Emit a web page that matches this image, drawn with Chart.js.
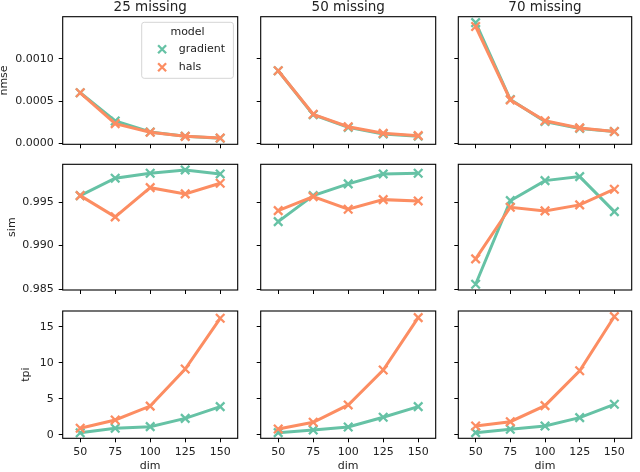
<!DOCTYPE html>
<html>
<head>
<meta charset="utf-8">
<script src="https://cdn.jsdelivr.net/npm/chart.js@4.4.1/dist/chart.umd.min.js"></script>
<style>
body { margin: 0; background: #fff; }
#wrap { position: relative; width: 640px; height: 472px; overflow: hidden; }
#wrap canvas { position: absolute; }
</style>
</head>
<body>
<div id="wrap"></div>
<script>
// x categories and facet labels
const dims = [50, 75, 100, 125, 150];
const panels = ['25 missing', '50 missing', '70 missing'];
const models = ['gradient', 'hals'];
const metrics = ['nmse', 'sim', 'tpi'];

// values per panel (25 / 50 / 70 missing)
const nmseGradient = [
    [0.000600, 0.000266, 0.000136, 0.000086, 0.000062],
    [0.000860, 0.000340, 0.000190, 0.000112, 0.000086],
    [0.001430, 0.000520, 0.000260, 0.000178, 0.000141]
];
const nmseHals = [
    [0.000600, 0.000235, 0.000132, 0.000084, 0.000064],
    [0.000860, 0.000345, 0.000198, 0.000120, 0.000092],
    [0.001384, 0.000515, 0.000268, 0.000184, 0.000141]
];
const simGradient = [
    [0.99576, 0.99777, 0.99834, 0.99872, 0.99826],
    [0.99277, 0.99576, 0.99711, 0.99826, 0.99834],
    [0.98555, 0.99518, 0.99749, 0.99795, 0.99392]
];
const simHals = [
    [0.99576, 0.99331, 0.99668, 0.99596, 0.99719],
    [0.99403, 0.99565, 0.99419, 0.99530, 0.99515],
    [0.98847, 0.99442, 0.99400, 0.99469, 0.99650]
];
const tpiGradient = [
    [0.30, 0.93, 1.15, 2.30, 3.92],
    [0.32, 0.69, 1.10, 2.45, 3.92],
    [0.32, 0.79, 1.25, 2.40, 4.25]
];
const tpiHals = [
    [0.93, 2.08, 4.00, 9.14, 16.16],
    [0.83, 1.76, 4.16, 9.00, 16.25],
    [1.25, 1.84, 4.06, 8.90, 16.40]
];

// tick labels
const dimTicks = [50, 75, 100, 125, 150];
const dimTickLabels = ['50', '75', '100', '125', '150'];
const nmseTicks = [0, 0.0005, 0.001];
const nmseTickLabels = ['0.0000', '0.0005', '0.0010'];
const simTicks = [0.985, 0.99, 0.995];
const simTickLabels = ['0.985', '0.990', '0.995'];
const tpiTicks = [0, 5, 10, 15];
const tpiTickLabels = ['0', '5', '10', '15'];

const series = {
    nmse: [nmseGradient, nmseHals],
    sim: [simGradient, simHals],
    tpi: [tpiGradient, tpiHals]
};
const yTicks = {
    nmse: [nmseTicks, nmseTickLabels],
    sim: [simTicks, simTickLabels],
    tpi: [tpiTicks, tpiTickLabels]
};
const yRange = { nmse: [-0.00001, 0.0015], sim: [0.98489, 0.99937], tpi: [-0.46, 17.17] };
const yTitlePad = { nmse: -2.8, sim: 5.5, tpi: 19.9 };
const colors = ['#66c2a5', '#fc8d62'];

// plot area edges in the figure
const plotL = [62.7, 260.7, 458.3];
const plotR = [243.3, 441.7, 638.5];
const plotT = [16.7, 164.3, 311];
const plotB = [144.3, 290, 438.3];

const FONT = 'DejaVu Sans';
const TXT = '#222';

const framePlugin = {
    id: 'frame',
    afterDraw(chart) {
        const a = chart.chartArea, ctx = chart.ctx;
        ctx.save();
        ctx.strokeStyle = '#000';
        ctx.lineWidth = 1.1;
        ctx.strokeRect(a.left, a.top, a.right - a.left, a.bottom - a.top);
        ctx.restore();
    }
};

function drawX(ctx, x, y, r) {
    ctx.beginPath();
    ctx.moveTo(x - r, y - r); ctx.lineTo(x + r, y + r);
    ctx.moveTo(x - r, y + r); ctx.lineTo(x + r, y - r);
    ctx.stroke();
}

const boxLegend = {
    id: 'boxLegend',
    afterDatasetsDraw(chart, args, opts) {
        if (!opts.show) return;
        const a = chart.chartArea, ctx = chart.ctx;
        const w = 91.7, h = 56, r = 2.5;
        const x = a.right - 4.3 - w, y = a.top + 5.6;
        ctx.save();
        ctx.beginPath();
        ctx.moveTo(x + r, y);
        ctx.arcTo(x + w, y, x + w, y + h, r);
        ctx.arcTo(x + w, y + h, x, y + h, r);
        ctx.arcTo(x, y + h, x, y, r);
        ctx.arcTo(x, y, x + w, y, r);
        ctx.closePath();
        ctx.fillStyle = 'rgba(255,255,255,0.8)';
        ctx.fill();
        ctx.strokeStyle = '#d5d5d5';
        ctx.lineWidth = 1;
        ctx.stroke();
        ctx.font = '11px "' + FONT + '"';
        ctx.fillStyle = TXT;
        ctx.textBaseline = 'middle';
        ctx.textAlign = 'center';
        ctx.fillText('model', x + w / 2, y + 10);
        ctx.textAlign = 'left';
        chart.data.datasets.forEach((ds, i) => {
            const yy = y + 27 + i * 18;
            ctx.strokeStyle = ds.borderColor;
            ctx.lineWidth = 2.3;
            drawX(ctx, x + 20.4, yy, 4);
            ctx.fillStyle = TXT;
            ctx.fillText(ds.label, x + 37, yy);
        });
        ctx.restore();
    }
};

const wrap = document.getElementById('wrap');

metrics.forEach((metric, r) => {
    panels.forEach((panel, c) => {
        const cl = c === 0 ? 0 : Math.floor(plotL[c]) - 10;
        const cr = c === 2 ? 640 : Math.ceil(plotR[c]) + 2;
        const ct = r === 0 ? 0 : Math.floor(plotT[r]) - 14;
        const cb = r === 2 ? 472 : Math.ceil(plotB[r]) + 14;
        const yW = plotL[c] - cl;
        const xH = cb - plotB[r];
        const titleH = 13.5 * 1.2;

        const cv = document.createElement('canvas');
        cv.width = cr - cl;
        cv.height = cb - ct;
        cv.style.left = cl + 'px';
        cv.style.top = ct + 'px';
        wrap.appendChild(cv);

        const [tv, tl] = yTicks[metric];
        const datasets = models.map((m, k) => ({
            label: m,
            data: dims.map((d, i) => ({ x: d, y: series[metric][k][c][i] })),
            borderColor: colors[k],
            backgroundColor: colors[k],
            borderWidth: 3,
            pointStyle: 'crossRot',
            pointRadius: 6,
            pointBorderWidth: 2.3,
            pointBorderColor: colors[k],
            pointBackgroundColor: colors[k],
            tension: 0,
            order: k === 0 ? 2 : 1
        }));

        new Chart(cv, {
            type: 'line',
            data: { datasets },
            options: {
                responsive: false,
                animation: false,
                devicePixelRatio: 1,
                layout: {
                    padding: {
                        left: 0, bottom: 0,
                        right: cr - plotR[c],
                        top: r === 0 ? plotT[r] - titleH : plotT[r] - ct
                    }
                },
                plugins: {
                    legend: { display: false },
                    tooltip: { enabled: false },
                    title: {
                        display: r === 0,
                        text: panel,
                        fullSize: false,
                        color: TXT,
                        font: { family: FONT, size: 13.5, weight: 'normal' },
                        padding: { top: -1, bottom: 1 }
                    },
                    boxLegend: { show: r === 0 && c === 0 }
                },
                scales: {
                    x: {
                        type: 'linear',
                        min: 37.5,
                        max: 162.5,
                        afterBuildTicks: s => { s.ticks = dimTicks.map(v => ({ value: v })); },
                        afterFit: s => { s.height = xH; },
                        border: { display: false },
                        grid: { display: true, drawOnChartArea: false, drawTicks: true, tickLength: 4, color: '#000', lineWidth: 1 },
                        ticks: {
                            display: r === 2,
                            padding: 3.5,
                            maxRotation: 0,
                            color: TXT,
                            font: { family: FONT, size: 11 },
                            callback: (v, i) => dimTickLabels[i]
                        },
                        title: {
                            display: r === 2,
                            text: 'dim',
                            color: TXT,
                            font: { family: FONT, size: 11 },
                            padding: { top: 0, bottom: -1.1 }
                        }
                    },
                    y: {
                        min: yRange[metric][0],
                        max: yRange[metric][1],
                        afterBuildTicks: s => { s.ticks = tv.map(v => ({ value: v })); },
                        afterFit: s => { s.width = yW; },
                        border: { display: false },
                        grid: { display: true, drawOnChartArea: false, drawTicks: true, tickLength: 4, color: '#000', lineWidth: 1 },
                        ticks: {
                            display: c === 0,
                            padding: 5,
                            color: TXT,
                            font: { family: FONT, size: 11 },
                            callback: (v, i) => tl[i]
                        },
                        title: {
                            display: c === 0,
                            text: metric,
                            color: TXT,
                            font: { family: FONT, size: 11 },
                            padding: { top: yTitlePad[metric], bottom: 0 }
                        }
                    }
                }
            },
            plugins: [boxLegend, framePlugin]
        });
    });
});
</script>
</body>
</html>
